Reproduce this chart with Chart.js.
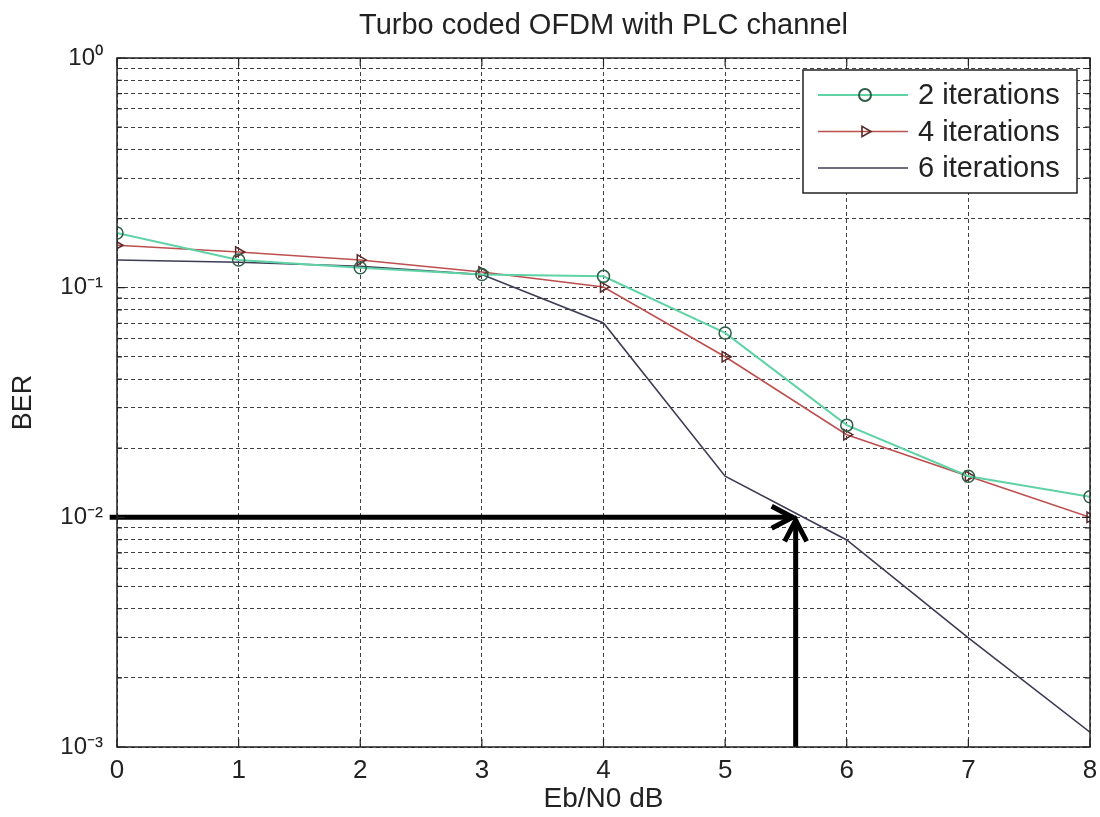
<!DOCTYPE html>
<html>
<head>
<meta charset="utf-8">
<title>Turbo coded OFDM with PLC channel</title>
<script src="https://cdn.jsdelivr.net/npm/chart.js@4.4.1/dist/chart.umd.min.js"></script>
<style>
  html, body { margin: 0; padding: 0; background: #fff; }
</style>
</head>
<body>
<canvas id="berChart" width="1100" height="817"></canvas>
<script>
// values
const ebn0 = [0, 1, 2, 3, 4, 5, 6, 7, 8];
const ber2 = [0.173, 0.132, 0.122, 0.114, 0.112, 0.0635, 0.0252, 0.0151, 0.0123];
const ber4 = [0.153, 0.143, 0.132, 0.117, 0.1007, 0.050, 0.0229, 0.0151, 0.0100];
const ber6 = [0.132, 0.129, 0.124, 0.114, 0.0702, 0.0151, 0.00797, 0.00299, 0.00116];
const seriesNames = ['2 iterations', '4 iterations', '6 iterations'];
const chartTitle = 'Turbo coded OFDM with PLC channel';

// axis ticks
const xTicks = [0, 1, 2, 3, 4, 5, 6, 7, 8];
const yDecades = [1e-3, 1e-2, 1e-1, 1];
const yLabels = ['10\u207B\u00B3', '10\u207B\u00B2', '10\u207B\u00B9', '10\u2070'];
const yMinor = [1, 2, 3, 4, 5, 6, 7, 8, 9];

// the arrow that marks BER = 1e-2
const arrowX = [-0.06, 5.58];
const arrowY = [1e-3, 1e-2];

const FONT = '"Liberation Sans", Arial, sans-serif';
const yGrid = yDecades.slice(0, -1).flatMap(d => yMinor.map(s => s * d)).concat([1]);

function pts(ys) {
    return ebn0.map((x, i) => ({ x: x, y: ys[i] }));
}

// box, inside ticks, arrow, title and legend in the matlab way
const matlabLook = {
    id: 'matlabLook',
    afterDatasetsDraw(chart) {
        const ctx = chart.ctx;
        const xs = chart.scales.x, ys = chart.scales.y;
        const xa = xs.getPixelForValue(arrowX[0]);
        const xb = xs.getPixelForValue(arrowX[1]);
        const yb = ys.getPixelForValue(arrowY[0]);
        const yt = ys.getPixelForValue(arrowY[1]);
        ctx.save();
        ctx.strokeStyle = '#000';
        ctx.lineWidth = 5;
        ctx.lineCap = 'butt';
        ctx.lineJoin = 'miter';
        // horizontal
        ctx.beginPath();
        ctx.moveTo(xa, yt);
        ctx.lineTo(xb - 2, yt);
        ctx.stroke();
        ctx.beginPath();
        ctx.moveTo(xb - 24, yt - 11);
        ctx.lineTo(xb - 3, yt);
        ctx.lineTo(xb - 24, yt + 11);
        ctx.stroke();
        // vertical
        ctx.beginPath();
        ctx.moveTo(xb, yb);
        ctx.lineTo(xb, yt + 2);
        ctx.stroke();
        ctx.beginPath();
        ctx.moveTo(xb - 11, yt + 24);
        ctx.lineTo(xb, yt + 3);
        ctx.lineTo(xb + 11, yt + 24);
        ctx.stroke();
        ctx.restore();
    },
    afterDraw(chart) {
        const ctx = chart.ctx;
        const a = chart.chartArea;
        const xs = chart.scales.x, ys = chart.scales.y;
        ctx.save();
        ctx.strokeStyle = '#222';
        ctx.lineWidth = 1.5;
        ctx.strokeRect(a.left, a.top, a.right - a.left, a.bottom - a.top);

        // tick marks pointing inwards
        ctx.lineWidth = 1.2;
        ctx.beginPath();
        xTicks.forEach(v => {
            const px = xs.getPixelForValue(v);
            ctx.moveTo(px, a.bottom); ctx.lineTo(px, a.bottom - 8);
            ctx.moveTo(px, a.top); ctx.lineTo(px, a.top + 8);
        });
        yGrid.forEach(v => {
            const py = ys.getPixelForValue(v);
            const major = yDecades.some(d => Math.abs(d - v) / d < 1e-6);
            const len = major ? 8 : 5;
            ctx.moveTo(a.left, py); ctx.lineTo(a.left + len, py);
            ctx.moveTo(a.right, py); ctx.lineTo(a.right - len, py);
        });
        ctx.stroke();

        // title, centred over the axes like matlab does
        ctx.fillStyle = '#222';
        ctx.font = '29px ' + FONT;
        ctx.textAlign = 'center';
        ctx.textBaseline = 'middle';
        ctx.fillText(chartTitle, (a.left + a.right) / 2, 26);

        // legend box
        const lx = 803, ly = 70, lw = 274, lh = 123;
        ctx.fillStyle = '#fff';
        ctx.fillRect(lx, ly, lw, lh);
        ctx.strokeStyle = '#222';
        ctx.lineWidth = 1.5;
        ctx.strokeRect(lx, ly, lw, lh);
        ctx.font = '29px ' + FONT;
        ctx.textAlign = 'left';
        chart.data.datasets.forEach((ds, i) => {
            const y = ly + 25 + i * 36.5;
            ctx.strokeStyle = ds.borderColor;
            ctx.lineWidth = ds.borderWidth;
            ctx.beginPath();
            ctx.moveTo(lx + 15, y);
            ctx.lineTo(lx + 105, y);
            ctx.stroke();
            if (ds.pointRadius > 0) {
                ctx.strokeStyle = ds.pointBorderColor;
                ctx.fillStyle = ds.pointBackgroundColor;
                Chart.helpers.drawPoint(ctx, {
                    pointStyle: ds.pointStyle,
                    rotation: ds.pointRotation || 0,
                    radius: ds.pointRadius,
                    borderWidth: ds.pointBorderWidth
                }, lx + 62, y);
            }
            ctx.fillStyle = '#222';
            ctx.fillText(ds.label, lx + 115, y + 1);
        });
        ctx.restore();
    }
};

const gridOpts = { color: 'rgba(0,0,0,0.75)', lineWidth: 1, drawTicks: false };
const borderOpts = { display: false, dash: [4, 3] };

new Chart(document.getElementById('berChart'), {
    type: 'line',
    data: {
        datasets: [
            {
                label: seriesNames[0],
                data: pts(ber2),
                borderColor: '#5fd3a6',
                borderWidth: 2,
                pointStyle: 'circle',
                pointRadius: 6,
                pointBorderWidth: 1.5,
                pointBorderColor: '#2e5e48',
                pointBackgroundColor: 'rgba(255,255,255,0)'
            },
            {
                label: seriesNames[1],
                data: pts(ber4),
                borderColor: '#bd4f4f',
                borderWidth: 1.6,
                pointStyle: 'triangle',
                pointRotation: 90,
                pointRadius: 6,
                pointBorderWidth: 1.5,
                pointBorderColor: '#5a2a2a',
                pointBackgroundColor: 'rgba(255,255,255,0)'
            },
            {
                label: seriesNames[2],
                data: pts(ber6),
                borderColor: '#3c3c55',
                borderWidth: 1.6,
                pointRadius: 0
            }
        ]
    },
    options: {
        responsive: false,
        animation: false,
        layout: { padding: { left: 0, right: 0, top: 58, bottom: 0 } },
        elements: { line: { tension: 0 } },
        plugins: {
            legend: { display: false },
            tooltip: { enabled: false },
            title: { display: false }
        },
        scales: {
            x: {
                type: 'linear',
                min: 0,
                max: 8,
                afterBuildTicks(scale) { scale.ticks = xTicks.map(v => ({ value: v })); },
                afterFit(scale) {
                    scale.height = 70;
                    scale.paddingRight = 10;
                },
                grid: gridOpts,
                border: borderOpts,
                ticks: { color: '#222', padding: 8, font: { family: FONT, size: 26 } },
                title: {
                    display: true,
                    text: 'Eb/N0 dB',
                    color: '#222',
                    font: { family: FONT, size: 28 },
                    padding: { top: 0, bottom: 1 }
                }
            },
            y: {
                type: 'logarithmic',
                min: 1e-3,
                max: 1,
                afterBuildTicks(scale) { scale.ticks = yGrid.map(v => ({ value: v })); },
                afterFit(scale) { scale.width = 117; },
                grid: gridOpts,
                border: borderOpts,
                ticks: {
                    autoSkip: false,
                    color: '#222',
                    padding: 14,
                    font: { family: FONT, size: 24 },
                    callback(v) {
                        const k = yDecades.findIndex(d => Math.abs(d - v) / d < 1e-6);
                        return k >= 0 ? yLabels[k] : '';
                    }
                },
                title: {
                    display: true,
                    text: 'BER',
                    color: '#222',
                    font: { family: FONT, size: 27 },
                    padding: { top: 7, bottom: 0 }
                }
            }
        }
    },
    plugins: [matlabLook]
});
</script>
</body>
</html>
